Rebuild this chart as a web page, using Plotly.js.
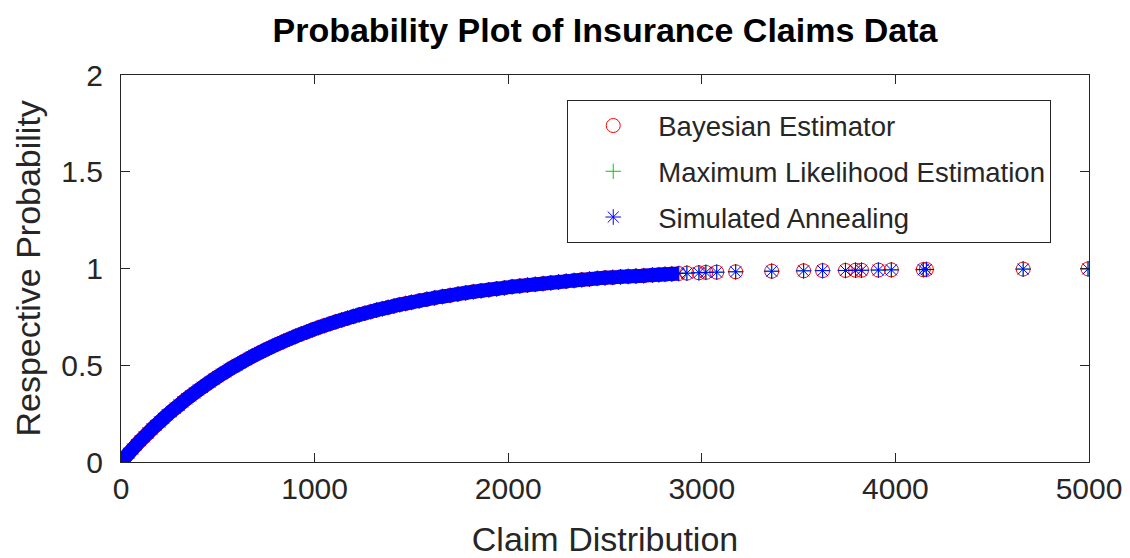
<!DOCTYPE html>
<html>
<head>
<meta charset="utf-8">
<script src="https://cdn.plot.ly/plotly-3.0.1.min.js"></script>
<style>html,body{margin:0;padding:0;background:#fff;}#chart{width:1130px;height:558px;}</style>
</head>
<body>
<div id="chart"></div>
<script>
// Claim amounts (x)
const claimX = [0,20,40,60,80,100,120,140,160,180,200,220,240,260,280,300,320,340,360,380,400,420,440,460,480,500,520,540,560,580,600,
630,660,690,720,750,780,810,840,870,900,930,960,990,1020,1050,1080,1110,1140,1170,1200,1230,1260,1290,1320,1350,1380,1410,1440,1470,1500,
1540,1580,1620,1660,1700,1740,1780,1820,1860,1900,1940,1980,2020,2060,2100,2140,2180,2220,2260,2300,2340,2380,2420,2460,2500,
2540,2580,2620,2660,2700,2745,2778,2810,2845,2881,2923,2985,
3021,3077,3175,3361,3526,3624,3742,3794,3825,3912,3979,4144,4160,4660,4995];

// Respective probabilities (the three estimators overlap and cannot be told apart)
const bayesProb = [0,0.023,0.045,0.067,0.089,0.110,0.130,0.150,0.170,0.189,0.207,0.226,0.244,0.261,0.278,0.294,0.311,0.327,0.342,0.357,0.372,0.386,0.400,0.414,0.428,0.441,0.454,0.466,0.479,0.491,0.502,
0.519,0.536,0.552,0.567,0.582,0.596,0.610,0.623,0.636,0.649,0.661,0.672,0.684,0.695,0.705,0.715,0.725,0.734,0.743,0.752,0.761,0.769,0.777,0.785,0.792,0.799,0.806,0.813,0.819,0.825,
0.833,0.841,0.848,0.855,0.861,0.868,0.874,0.880,0.885,0.890,0.895,0.900,0.906,0.910,0.914,0.918,0.922,0.926,0.930,0.934,0.938,0.942,0.945,0.949,0.952,
0.954,0.957,0.959,0.961,0.963,0.966,0.968,0.970,0.972,0.974,0.976,0.978,
0.980,0.981,0.983,0.986,0.988,0.989,0.990,0.991,0.991,0.992,0.993,0.994,0.995,0.997,0.998];
const mleProb = bayesProb.slice();
const saProb = bayesProb.slice();

const seriesNames = ['Bayesian Estimator', 'Maximum Likelihood Estimation', 'Simulated Annealing'];
const xTitle = 'Claim Distribution';
const yTitle = 'Respective Probability';
const chartTitle = 'Probability Plot of Insurance Claims Data';
const denseCount = 96; // points that merge into a solid band

const FONT = 'Liberation Sans, Arial, Helvetica, sans-serif';
const AX = '#262626';

const traces = [
  {x: claimX, y: bayesProb, type: 'scatter', mode: 'markers', name: seriesNames[0], legendgroup: 'a',
   marker: {symbol: 'circle-open', size: 14, color: '#ff0000', line: {width: 1, color: '#ff0000'}}},
  {x: claimX, y: mleProb, type: 'scatter', mode: 'markers', name: seriesNames[1], legendgroup: 'b',
   marker: {symbol: 'cross-thin-open', size: 11, color: '#00cc00', line: {width: 1, color: '#00cc00'}}},
  {x: claimX.slice(0, denseCount), y: saProb.slice(0, denseCount), type: 'scatter', mode: 'lines', showlegend: false,
   hoverinfo: 'skip', line: {color: '#0000ff', width: 14, shape: 'spline', smoothing: 1}},
  {x: claimX, y: saProb, type: 'scatter', mode: 'markers', name: seriesNames[2], legendgroup: 'c',
   marker: {symbol: 'asterisk-open', size: 13, color: '#0000ff', line: {width: 1, color: '#0000ff'}}}
];

const axisCommon = {
  showgrid: false, zeroline: false, showline: true, linecolor: AX, linewidth: 1, mirror: 'allticks',
  ticks: 'inside', ticklen: 9, tickcolor: AX, tickwidth: 1,
  tickfont: {family: FONT, size: 30, color: AX}
};

const layout = {
  width: 1130, height: 558,
  margin: {l: 121, r: 41, t: 75, b: 96},
  paper_bgcolor: '#ffffff', plot_bgcolor: '#ffffff',
  font: {family: FONT, color: AX},
  title: {text: '<b>' + chartTitle + '</b>', font: {family: FONT, size: 34, color: '#000'},
          xref: 'paper', x: 0.5, xanchor: 'center', yref: 'container', y: 0.946, yanchor: 'middle'},
  xaxis: Object.assign({}, axisCommon, {range: [0, 5000], tickvals: [0,1000,2000,3000,4000,5000],
          title: {text: xTitle, font: {family: FONT, size: 34, color: AX}, standoff: 26}}),
  yaxis: Object.assign({}, axisCommon, {range: [0, 2], tickvals: [0,0.5,1,1.5,2], ticktext: ['0','0.5','1','1.5','2'],
          ticklabelstandoff: 11}),
  annotations: [{text: yTitle, xref: 'paper', yref: 'paper', x: -0.0971, y: 0.5, xanchor: 'center', yanchor: 'middle',
                 textangle: -90, showarrow: false, font: {family: FONT, size: 34, color: AX}}],
  showlegend: true,
  legend: {x: 0.461, y: 0.935, xanchor: 'left', yanchor: 'top', bgcolor: '#ffffff', bordercolor: AX, borderwidth: 1,
           font: {family: FONT, size: 27.5, color: AX}, traceorder: 'grouped', tracegroupgap: 7, itemwidth: 80}
};

Plotly.newPlot('chart', traces, layout, {displayModeBar: false, staticPlot: true});
</script>
</body>
</html>
